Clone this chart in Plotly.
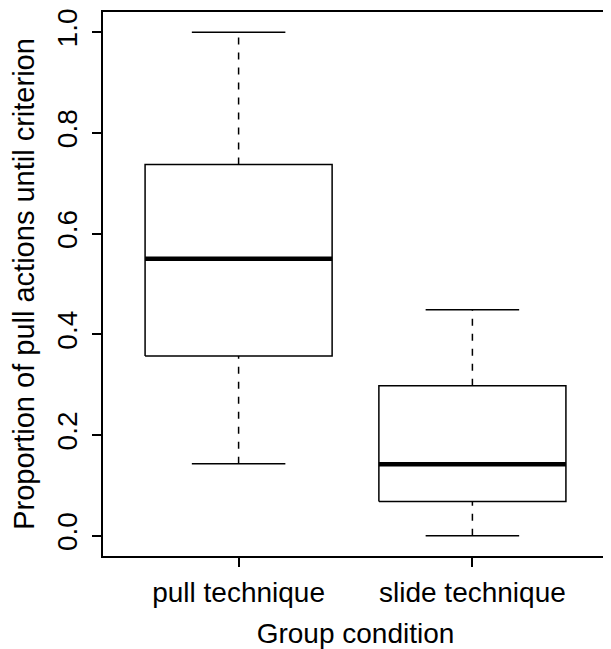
import plotly.graph_objects as go

categories = ["pull technique", "slide technique"]
lower_whisker = [0.143, 0.0]
q1_values = [0.357, 0.068]
median_values = [0.55, 0.142]
q3_values = [0.737, 0.298]
upper_whisker = [1.0, 0.449]
y_ticks = [0.0, 0.2, 0.4, 0.6, 0.8, 1.0]
y_tick_labels = ["0.0", "0.2", "0.4", "0.6", "0.8", "1.0"]

BOX_HALF = 0.4
CAP_HALF = 0.2
FONT = "Liberation Sans, Arial, sans-serif"
FS = 28

fig = go.Figure()

box_x, box_y, med_x, med_y, wh_x, wh_y, cap_x, cap_y = [], [], [], [], [], [], [], []
for i, cat in enumerate(categories):
    c = i + 1
    lo, a, m, b, hi = lower_whisker[i], q1_values[i], median_values[i], q3_values[i], upper_whisker[i]
    box_x += [c - BOX_HALF, c + BOX_HALF, c + BOX_HALF, c - BOX_HALF, c - BOX_HALF, None]
    box_y += [a, a, b, b, a, None]
    med_x += [c - BOX_HALF, c + BOX_HALF, None]
    med_y += [m, m, None]
    wh_x += [c, c, None, c, c, None]
    wh_y += [b, hi, None, lo, a, None]
    cap_x += [c - CAP_HALF, c + CAP_HALF, None, c - CAP_HALF, c + CAP_HALF, None]
    cap_y += [hi, hi, None, lo, lo, None]

fig.add_trace(go.Scatter(x=wh_x, y=wh_y, mode="lines",
                         line=dict(color="black", width=1.5, dash="7px,8px"),
                         hoverinfo="skip", showlegend=False))
fig.add_trace(go.Scatter(x=cap_x, y=cap_y, mode="lines",
                         line=dict(color="black", width=1.5),
                         hoverinfo="skip", showlegend=False))
fig.add_trace(go.Scatter(x=box_x, y=box_y, mode="lines",
                         line=dict(color="black", width=1.5),
                         hoverinfo="skip", showlegend=False))
fig.add_trace(go.Scatter(x=med_x, y=med_y, mode="lines",
                         line=dict(color="black", width=4.5),
                         hoverinfo="skip", showlegend=False))

# the page body has an 8px margin, so the figure is sized to fit the window
fig.update_layout(
    width=603, height=641,
    margin=dict(l=95, r=1, t=2, b=93),
    plot_bgcolor="white", paper_bgcolor="white",
    font=dict(family=FONT, size=FS, color="black"),
    showlegend=False,
    xaxis=dict(
        range=[0.42, 2.58], tickvals=[1, 2], ticktext=categories,
        showgrid=False, zeroline=False, showline=True, mirror=True,
        linecolor="black", linewidth=1.5,
        ticks="outside", ticklen=9, tickwidth=1.5, tickcolor="black",
        ticklabelstandoff=2,
        title=dict(text="Group condition", font=dict(size=FS), standoff=16),
    ),
    yaxis=dict(
        range=[-0.04, 1.04], tickvals=y_ticks, ticktext=y_tick_labels,
        tickangle=-90, ticklabeloverflow="allow",
        showgrid=False, zeroline=False, showline=True, mirror=True,
        linecolor="black", linewidth=1.5,
        ticks="outside", ticklen=9, tickwidth=1.5, tickcolor="black",
        ticklabelstandoff=4,
        title=dict(text="Proportion of pull actions until criterion", font=dict(size=29), standoff=12),
    ),
)

fig.write_html("out.html")
